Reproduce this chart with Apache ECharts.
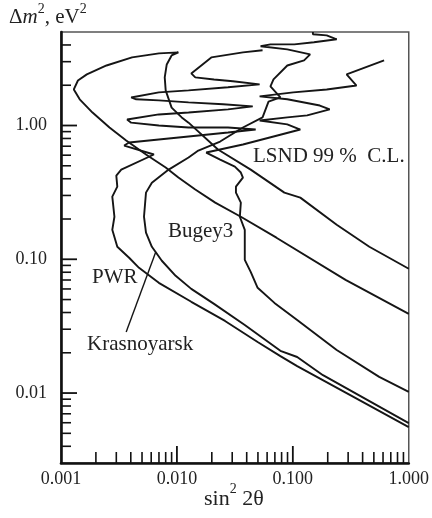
<!DOCTYPE html>
<html><head><meta charset="utf-8">
<script src="https://cdn.jsdelivr.net/npm/echarts@6/dist/echarts.min.js"></script>
<style>html,body{margin:0;padding:0;background:#fff}#c{width:432px;height:518px}</style>
</head><body><div id="c"></div>
<script>
// ---- axis ticks / labels ----
const xTickLabels = ['0.001', '0.010', '0.100', '1.000'];
const yTickLabels = ['0.01', '0.10', '1.00'];
const xMajorTicks = [0.01, 0.1];
const xMinorTicks = [0.002,0.003,0.004,0.005,0.006,0.007,0.008,0.009,
                     0.02,0.03,0.04,0.05,0.06,0.07,0.08,0.09,
                     0.2,0.3,0.4,0.5,0.6,0.7,0.8,0.9];
const yMajorTicks = [0.01, 0.1, 1];
const yMinorTicks = [0.004,0.005,0.006,0.007,0.008,0.009,
                     0.02,0.03,0.04,0.05,0.06,0.07,0.08,0.09,
                     0.2,0.3,0.4,0.5,0.6,0.7,0.8,0.9,
                     2,3,4];

// ---- curves: [sin^2 2theta, dm^2] ----
const lsnd = [[1.0,0.0849],[0.457,0.124],[0.239,0.181],[0.116,0.289],[0.0845,0.315],[0.0433,0.468],[0.0226,0.661],[0.0126,1.05],[0.0110,1.15],[0.0090,1.36],[0.0080,1.83],[0.00785,2.29],[0.00817,2.86],[0.0090,3.34],[0.0103,3.52],[0.0070,3.46],[0.0041,3.23],[0.00247,2.81],[0.00167,2.41],[0.0014,2.17],[0.00129,1.86],[0.00145,1.57],[0.00187,1.25],[0.00262,0.966],[0.00365,0.772],[0.00541,0.607],[0.0080,0.485],[0.0103,0.408],[0.0144,0.332],[0.0214,0.265],[0.0356,0.208],[0.0722,0.145],[0.285,0.0702],[1.0,0.0391]];

const pwr = [[1.0,0.00556],[0.291,0.0100],[0.109,0.0159],[0.0781,0.0189],[0.0497,0.0241],[0.0260,0.0346],[0.0133,0.0481],[0.00698,0.0667],[0.00471,0.0863],[0.00387,0.1026],[0.00306,0.124],[0.00277,0.166],[0.00289,0.208],[0.00277,0.294],[0.00306,0.349],[0.0030,0.422],[0.00331,0.468],[0.00633,0.607],[0.00351,0.708],[0.00387,0.746],[0.00698,0.786],[0.0126,0.828],[0.0276,0.887],[0.0478,0.933],[0.0276,0.966],[0.0126,0.966],[0.00698,1.0],[0.00403,1.05],[0.00372,1.11],[0.00698,1.21],[0.0126,1.25],[0.0276,1.32],[0.0451,1.39],[0.0250,1.44],[0.0126,1.49],[0.00698,1.54],[0.00445,1.57],[0.00403,1.62],[0.00698,1.77],[0.0126,1.83],[0.0276,1.93],[0.0517,2.03],[0.0304,2.14],[0.0209,2.21],[0.0144,2.29],[0.0133,2.45],[0.0198,3.23],[0.0371,3.52],[0.0548,3.65]];

const krasnoyarsk = [[1.0,0.00596],[0.182,0.0136],[0.109,0.0186],[0.0781,0.0207],[0.0385,0.0323],[0.0209,0.0464],[0.0133,0.0601],[0.00975,0.0752],[0.00741,0.0975],[0.00608,0.124],[0.00541,0.158],[0.0052,0.208],[0.00541,0.315],[0.00608,0.374],[0.00849,0.468],[0.0126,0.576],[0.0153,0.650],[0.0236,0.759],[0.0371,0.966],[0.0548,1.15],[0.0617,1.51],[0.0781,1.62],[0.0641,1.96],[0.0681,2.21],[0.0896,2.81],[0.125,3.07],[0.141,3.40],[0.0896,3.71],[0.0527,3.91],[0.0641,4.04],[0.103,4.04],[0.152,4.19],[0.239,4.41],[0.196,4.72],[0.149,4.81],[0.149,5.0]];

const bugey3 = [[1.0,0.0102],[0.556,0.0132],[0.239,0.0210],[0.109,0.0352],[0.0694,0.0472],[0.0497,0.0612],[0.0433,0.0806],[0.0385,0.0991],[0.0385,0.166],[0.0349,0.208],[0.0356,0.265],[0.0323,0.315],[0.0323,0.349],[0.0371,0.408],[0.0356,0.445],[0.0316,0.493],[0.0236,0.556],[0.0179,0.628],[0.0371,0.721],[0.0736,0.842],[0.116,0.933],[0.0896,1.02],[0.0517,1.09],[0.0896,1.15],[0.133,1.19],[0.208,1.32],[0.171,1.41],[0.0896,1.57],[0.0517,1.65],[0.1008,1.77],[0.196,1.86],[0.354,1.99],[0.291,2.41],[0.613,3.07]];

const krasLeader = [[0.00365,0.0286],[0.00658,0.114]];

const X_MIN = 0.001, X_MAX = 1, Y_MIN = 0.003, Y_MAX = 5;
const FONT = '"Liberation Serif", "DejaVu Serif", serif';

function isDecade(v){ const l = Math.log10(v); return Math.abs(l - Math.round(l)) < 1e-6; }

function tickSeries(vals, dir, len, w){
  return {
    type: 'custom', silent: true, z: 6, clip: false, animation: false,
    data: vals.map(v => dir === 'x' ? [v, Y_MIN] : [X_MIN, v]),
    renderItem: function(params, api){
      const p = api.coord([api.value(0), api.value(1)]);
      const shape = dir === 'x'
        ? {x1: p[0], y1: p[1], x2: p[0], y2: p[1] - len}
        : {x1: p[0], y1: p[1], x2: p[0] + len, y2: p[1]};
      return {type: 'line', shape: shape, style: {stroke: '#111', lineWidth: w}};
    }
  };
}

function curve(name, data){
  return {name: name, type: 'line', data: data, showSymbol: false, symbol: 'none',
    lineStyle: {color: '#151515', width: 1.9}, z: 3, animation: false, silent: true};
}

const chart = echarts.init(document.getElementById('c'), null, {renderer: 'canvas'});
chart.setOption({
  backgroundColor: '#fff',
  animation: false,
  grid: {left: 61, right: 19, top: 32, bottom: 55, show: true, borderColor: '#555', borderWidth: 1.5, backgroundColor: 'transparent'},
  xAxis: {
    type: 'log', logBase: 10, min: X_MIN, max: X_MAX,
    axisLine: {show: true, onZero: false, lineStyle: {color: '#111', width: 2.6}},
    axisTick: {show: false}, splitLine: {show: false}, minorTick: {show: false},
    axisLabel: {
      margin: 7, color: '#222', fontFamily: FONT, fontSize: 18, showMinLabel: true, showMaxLabel: true,
      formatter: v => isDecade(v) ? xTickLabels[Math.round(Math.log10(v)) + 3] : ''
    }
  },
  yAxis: {
    type: 'log', logBase: 10, min: Y_MIN, max: Y_MAX,
    axisLine: {show: true, onZero: false, lineStyle: {color: '#111', width: 2.6}},
    axisTick: {show: false}, splitLine: {show: false}, minorTick: {show: false},
    axisLabel: {
      margin: 14, color: '#222', fontFamily: FONT, fontSize: 18,
      formatter: v => (isDecade(v) && Math.round(Math.log10(v)) >= -2 && Math.round(Math.log10(v)) <= 0)
        ? yTickLabels[Math.round(Math.log10(v)) + 2] : ''
    }
  },
  series: [
    curve('LSND', lsnd),
    curve('PWR', pwr),
    curve('Krasnoyarsk', krasnoyarsk),
    curve('Bugey3', bugey3),
    {type: 'line', data: krasLeader, showSymbol: false, symbol: 'none', lineStyle: {color: '#151515', width: 1.4}, animation: false, silent: true},
    tickSeries(xMajorTicks, 'x', 17, 1.8),
    tickSeries(xMinorTicks, 'x', 11, 1.6),
    tickSeries(yMajorTicks, 'y', 16, 1.8),
    tickSeries(yMinorTicks, 'y', 10, 1.6)
  ],
  graphic: [
    {type: 'text', left: 9, top: 2, style: {
      text: '{n|Δ}{i|m}{s|2}{n|, eV}{s|2}',
      rich: {
        n: {fontFamily: FONT, fontSize: 21, fill: '#222', lineHeight: 26, verticalAlign: 'bottom'},
        i: {fontFamily: FONT, fontSize: 21, fontStyle: 'italic', fill: '#222', lineHeight: 26, verticalAlign: 'bottom'},
        s: {fontFamily: FONT, fontSize: 14, fill: '#222', lineHeight: 26, verticalAlign: 'top'}
      }}},
    {type: 'text', left: 204, top: 482, style: {
      text: '{n|sin}{s|2}{n| 2θ}',
      rich: {
        n: {fontFamily: FONT, fontSize: 22, fill: '#222', lineHeight: 28, verticalAlign: 'bottom'},
        s: {fontFamily: FONT, fontSize: 14, fill: '#222', lineHeight: 28, verticalAlign: 'top'}
      }}},
    {type: 'text', style: {x: 92, y: 277, text: 'PWR', fontFamily: FONT, fontSize: 21, fill: '#222', verticalAlign: 'middle'}},
    {type: 'text', style: {x: 168, y: 231, text: 'Bugey3', fontFamily: FONT, fontSize: 21, fill: '#222', verticalAlign: 'middle'}},
    {type: 'text', style: {x: 87, y: 344, text: 'Krasnoyarsk', fontFamily: FONT, fontSize: 21, fill: '#222', verticalAlign: 'middle'}},
    {type: 'text', style: {x: 253, y: 156, text: 'LSND 99 %  C.L.', fontFamily: FONT, fontSize: 21, fill: '#222', verticalAlign: 'middle'}}
  ]
});
</script></body></html>
